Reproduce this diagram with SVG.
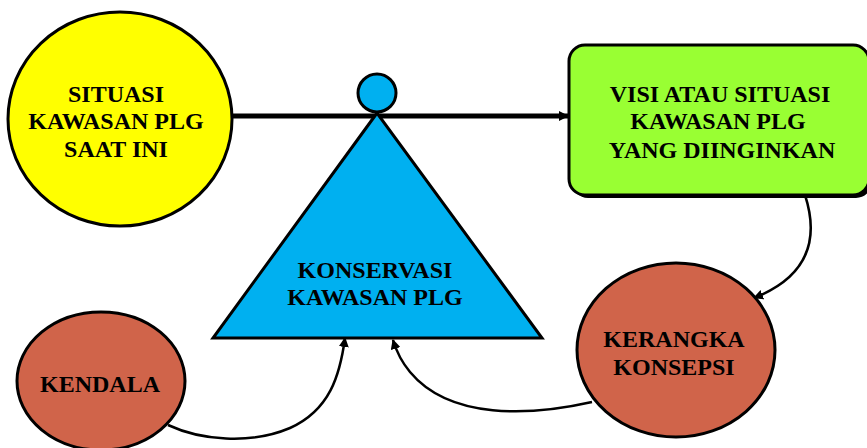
<svg xmlns="http://www.w3.org/2000/svg" width="867" height="448" viewBox="0 0 867 448">
<defs>
<style>
.t{font-family:"Liberation Serif","Times New Roman",serif;font-weight:bold;font-size:24px;fill:#000;text-anchor:middle}
.o{stroke:#000;stroke-width:3}
.c{fill:none;stroke:#000;stroke-width:2.5}
</style>
<marker id="ah" markerWidth="10" markerHeight="10" refX="9" refY="5" orient="auto" markerUnits="userSpaceOnUse"><path d="M0,0 L10,5 L0,10 z" fill="#000"/></marker>
</defs>
<rect width="867" height="448" fill="#fff"/>
<g id="connectors">
<line x1="231" y1="116" x2="568" y2="116" stroke="#000" stroke-width="5" marker-end="url(#ah)"/>
<path class="c" d="M805,195 C818,235 812,275 754,298" marker-end="url(#ah)"/>
<path class="c" d="M592,402 C530,416 450,420 410,372 C400,360 396,350 393,340" marker-end="url(#ah)"/>
<path class="c" d="M168,425 C200,440 250,445 290,428 C330,410 340,375 345,338" marker-end="url(#ah)"/>
</g>
<g id="situasi">
<ellipse class="o" cx="120" cy="119" rx="112" ry="107" fill="#FFFF00"/>
<text class="t" x="116" y="102">SITUASI</text>
<text class="t" x="116" y="129">KAWASAN PLG</text>
<text class="t" x="116" y="157">SAAT INI</text>
</g>
<g id="konservasi">
<polygon class="o" points="377,113 213,338 542,338" fill="#00B0F0"/>
<circle class="o" cx="377" cy="93" r="19" fill="#00B0F0"/>
<text class="t" x="375" y="278">KONSERVASI</text>
<text class="t" x="375" y="305">KAWASAN PLG</text>
</g>
<g id="visi">
<rect x="572" y="48" width="300" height="150" rx="16" fill="#000"/>
<rect class="o" x="569" y="45" width="300" height="150" rx="16" fill="#99FF33"/>
<text class="t" x="720" y="102">VISI ATAU SITUASI</text>
<text class="t" x="718" y="129">KAWASAN PLG</text>
<text class="t" x="722" y="158">YANG DIINGINKAN</text>
</g>
<g id="kerangka">
<ellipse class="o" cx="676" cy="350" rx="99" ry="87" fill="#D0644A"/>
<text class="t" x="674" y="347">KERANGKA</text>
<text class="t" x="674" y="375">KONSEPSI</text>
</g>
<g id="kendala">
<ellipse class="o" cx="101" cy="381" rx="84" ry="69" fill="#D0644A"/>
<text class="t" x="100" y="392">KENDALA</text>
</g>
</svg>
